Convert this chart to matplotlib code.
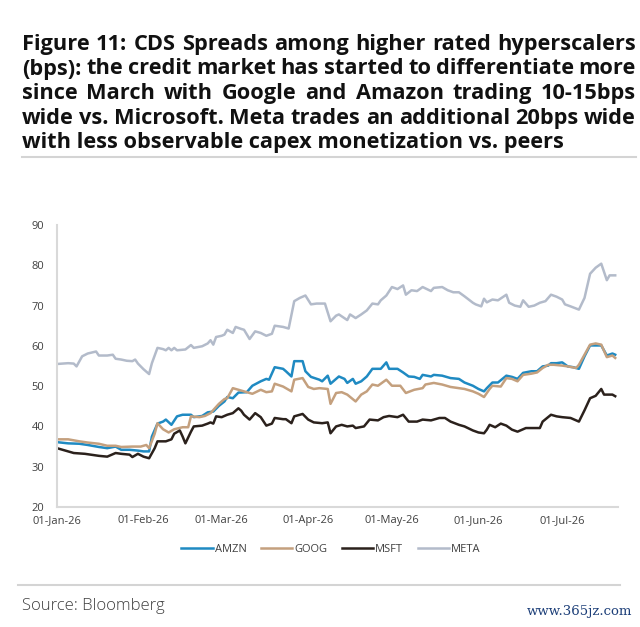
import matplotlib
matplotlib.use("Agg")
import matplotlib.pyplot as plt
from matplotlib.lines import Line2D
import pandas as pd

# days counted from 01-Jan-26, values in bps
amzn_day = [0, 4, 8, 11, 15, 18, 21, 23, 26, 29, 31, 33, 34, 36, 38, 39, 41, 43, 45, 48, 49, 52, 54, 56, 58, 60, 61, 63, 65,
            68, 70, 73, 75, 76, 78, 81, 82, 84, 85, 88, 89, 91, 94, 95, 97, 98, 100, 101, 103, 104, 106, 107, 109, 111, 113,
            116, 118, 119, 122, 124, 126, 128, 130, 131,
            134, 135, 138, 141, 144, 146, 149, 151, 153, 154, 156, 158, 161, 163, 165, 167, 170, 172, 174, 176, 177, 179,
            181, 183, 185, 187, 189, 191, 193, 195, 197, 199, 200]
amzn = [36.1, 35.8, 35.7, 35.4, 34.9, 34.6, 35.0, 34.2, 34.2, 34.0, 33.8, 33.8, 37.5, 40.7, 41.2, 41.7, 40.4, 42.5, 42.9,
        42.9, 42.3, 42.6, 43.5, 43.7, 45.1, 46.2, 47.3, 47.0, 48.4,
        48.5, 50.1, 51.2, 51.8, 51.6, 54.7, 54.3, 53.7, 52.4, 56.2, 56.2, 53.7, 52.3, 51.6, 51.2, 52.6, 50.6, 51.8, 52.4,
        51.8, 50.8, 51.8, 50.6, 51.2, 52.4, 54.3, 54.3, 55.9, 54.3, 54.3, 53.4, 52.4, 52.3, 51.8, 52.8,
        52.4, 52.8, 52.6, 52.0, 51.8, 50.9, 50.1, 49.3, 48.7, 49.5, 50.9, 50.9, 52.6, 52.3, 51.8, 53.3, 53.7, 53.7, 54.9,
        55.1, 55.7, 55.7, 55.9, 54.9, 54.7, 54.3, 57.4, 60.1, 60.1, 60.1, 57.6, 58.1, 57.8]

goog_day = [0, 4, 8, 11, 15, 18, 21, 23, 27, 30, 32, 33, 35, 36, 38, 40, 42, 45, 47, 48, 51, 53, 55, 58, 60, 61, 63, 65,
            68, 70, 73, 75, 77, 78, 81, 84, 85, 88, 90, 92, 94, 97, 98, 100, 102, 104, 107, 109, 111, 113, 115, 118, 120,
            123, 125, 128, 131,
            132, 135, 138, 141, 144, 146, 149, 151, 153, 155, 156, 159, 161, 163, 165, 167, 170, 172, 174, 176, 178, 181,
            183, 186, 187, 189, 191, 193, 195, 197, 199, 200]
goog = [36.8, 36.8, 36.3, 36.0, 35.7, 35.2, 35.2, 34.9, 35.0, 35.0, 35.4, 34.6, 38.2, 40.8, 39.3, 38.5, 39.3, 39.8, 39.8,
        42.5, 42.3, 42.6, 43.3, 45.6, 46.8, 47.0, 49.5, 49.1,
        48.5, 48.1, 49.1, 48.5, 48.7, 50.6, 49.9, 48.7, 51.6, 52.0, 49.8, 49.3, 49.5, 49.3, 45.6, 48.3, 48.5, 47.9, 46.2,
        47.9, 48.7, 50.4, 50.1, 51.6, 50.1, 50.1, 48.3, 49.1, 49.5,
        50.4, 50.8, 50.4, 49.8, 49.5, 49.3, 48.7, 48.1, 47.3, 49.3, 50.1, 49.9, 52.0, 51.8, 51.2, 52.8, 53.1, 53.4, 54.5,
        55.3, 55.3, 55.1, 54.9, 54.5, 55.3, 57.8, 60.3, 60.6, 60.3, 57.2, 57.6, 57.0]

msft_day = [0, 3, 6, 10, 12, 15, 18, 21, 23, 26, 27, 29, 31, 33, 35, 36, 39, 41, 42, 44, 45, 46, 48, 49, 52, 54, 55, 56,
            57, 59, 61, 63, 65,
            66, 67, 69, 71, 73, 75, 77, 78, 81, 82, 84, 85, 88, 90, 92, 95, 97, 98, 100, 102, 104, 106, 107, 110, 112,
            115, 117, 119, 122, 124, 126, 129, 131,
            134, 137, 139, 141, 144, 146, 149, 151, 153, 154, 155, 157, 159, 161, 163, 165, 168, 170, 173, 174, 177, 179,
            181, 184, 187, 189, 191, 193, 195, 196, 199, 200]
msft = [34.6, 34.0, 33.4, 33.2, 33.0, 32.7, 32.5, 33.4, 33.2, 33.0, 32.4, 33.2, 32.5, 32.1, 34.6, 36.3, 36.3, 36.8, 38.2,
        39.0, 37.5, 35.8, 38.7, 40.0, 40.2, 40.7, 41.0, 40.7, 42.5, 42.3, 42.9, 43.3, 44.5,
        43.9, 42.9, 41.7, 43.3, 42.3, 40.2, 40.7, 42.1, 41.8, 41.8, 40.8, 42.5, 43.1, 41.7, 41.0, 40.8, 41.0, 38.3, 40.0,
        40.4, 40.0, 40.2, 39.6, 40.0, 41.7, 41.5, 42.3, 42.6, 42.3, 42.9, 41.2, 41.2, 41.7,
        41.5, 42.1, 42.1, 41.2, 40.4, 40.0, 39.0, 38.5, 38.3, 39.2, 40.4, 39.8, 40.7, 40.2, 39.2, 38.7, 39.6, 39.6, 39.6,
        41.2, 42.9, 42.5, 42.3, 42.1, 41.2, 44.0, 47.0, 47.6, 49.3, 47.9, 47.9, 47.5]

meta_day = [0, 4, 6, 7, 9, 11, 14, 15, 18, 20, 21, 23, 25, 27, 28, 29, 31, 33, 34, 36, 38, 39, 40, 41, 42, 43, 46, 48, 49,
            52, 54, 55, 56, 57, 59, 60, 61, 63, 64, 66,
            67, 69, 71, 73, 75, 77, 78, 81, 83, 85, 87, 89, 91, 93, 96, 98, 100, 101, 104, 105, 107, 109, 111, 113, 115,
            116, 118, 120, 122, 124, 125, 127, 129, 131,
            134, 135, 138, 140, 142, 144, 146, 149, 150, 152, 153, 154, 156, 158, 161, 162, 164, 166, 167, 169, 171, 173,
            175, 177, 179, 181, 182, 184, 187, 189, 191, 193, 195, 197, 198, 200]
meta = [55.5, 55.7, 55.6, 54.9, 57.4, 58.1, 58.6, 57.6, 57.6, 57.8, 56.8, 56.6, 56.3, 56.2, 56.6, 55.6, 54.2, 53.0, 55.7,
        59.5, 59.2, 58.9, 59.5, 58.9, 59.5, 58.9, 59.1, 60.2, 59.5, 59.9, 60.6, 61.4, 60.3, 62.2, 62.5, 62.8, 64.0, 63.2,
        64.7, 64.2,
        64.0, 61.7, 63.6, 63.2, 62.5, 63.0, 65.0, 64.7, 64.3, 71.1, 71.9, 72.5, 70.3, 70.5, 70.5, 66.1, 67.5, 67.8, 66.4,
        67.8, 66.9, 67.8, 68.8, 70.5, 70.3, 71.3, 72.5, 74.6, 74.1, 75.0, 72.7, 73.8, 73.6, 74.6,
        73.6, 74.4, 74.6, 73.8, 73.3, 73.3, 72.3, 70.7, 70.3, 69.8, 71.7, 70.8, 71.5, 71.3, 72.7, 70.7, 70.0, 69.7, 71.3,
        69.7, 70.0, 70.7, 71.1, 72.7, 72.2, 71.5, 70.3, 69.8, 69.0, 71.9, 77.9, 79.4, 80.4, 76.3, 77.5, 77.5]

names = ["AMZN", "GOOG", "MSFT", "META"]
colors = ["#1f8ac2", "#c4a07e", "#2b211c", "#b3bbca"]

title_lines = [
    "Figure 11: CDS Spreads among higher rated hyperscalers",
    "(bps):  the credit market has started to differentiate more",
    "since March with Google and Amazon trading 10-15bps",
    "wide vs. Microsoft. Meta trades an additional 20bps wide",
    "with less observable capex monetization vs. peers",
]

W, H = 640, 627
start = pd.Timestamp("2026-01-01")

fig = plt.figure(figsize=(W / 100, H / 100), dpi=100)
renderer = fig.canvas.get_renderer()
title_style = dict(family="Open Sans", weight="bold", color="#111111", va="baseline")

# size the title font so the last (unjustified) line has the original width
probe = fig.text(0, 0, title_lines[-1], fontsize=14, **title_style)
title_size = 14 * 545 / probe.get_window_extent(renderer).width
probe.remove()

baselines = [50, 74.5, 99, 123.5, 148]
for i, line in enumerate(title_lines):
    yb = 1 - baselines[i] / H
    if i == len(title_lines) - 1:
        fig.text(22 / W, yb, line, fontsize=title_size, **title_style)
        continue
    # the other lines are justified to the full width
    words = line.split()
    texts = [fig.text(0, yb, w, fontsize=title_size, **title_style) for w in words]
    widths = [t.get_window_extent(renderer).width for t in texts]
    gap = (636 - 22 - sum(widths)) / (len(words) - 1)
    x = 22
    for t, w in zip(texts, widths):
        t.set_x(x / W)
        x += w + gap

fig.add_artist(Line2D([22 / W, 636 / W], [1 - 157 / H] * 2, color="#d4d4d4", lw=1.5))
fig.add_artist(Line2D([18 / W, 620 / W], [1 - 585 / H] * 2, color="#d4d4d4", lw=1.5))

ax = fig.add_axes([57 / W, 1 - 507 / H, (618 - 57) / W, (507 - 225) / H])
series = [(amzn_day, amzn), (goog_day, goog), (msft_day, msft), (meta_day, meta)]
for (days, vals), name, c in zip(series, names, colors):
    dates = start + pd.to_timedelta(days, unit="D")
    ax.plot(dates, vals, color=c, lw=1.8, label=name, solid_joinstyle="round")

ax.set_ylim(20, 90)
ax.set_yticks(range(20, 91, 10))
ax.set_xlim(start, start + pd.Timedelta(days=201))
ticks = pd.date_range("2026-01-01", "2026-07-01", freq="MS")
ax.set_xticks(ticks)
ax.set_xticklabels([t.strftime("%d-%b-%y") for t in ticks])
for s in ["top", "right"]:
    ax.spines[s].set_visible(False)
for s in ["left", "bottom"]:
    ax.spines[s].set_color("#d9d9d9")
    ax.spines[s].set_linewidth(1.5)
ax.tick_params(length=0, labelsize=8, colors="#404040")
ax.tick_params(axis="y", pad=9)
ax.tick_params(axis="x", pad=6)
for lbl in ax.get_xticklabels() + ax.get_yticklabels():
    lbl.set_family("Open Sans")

fig.legend(loc="center", bbox_to_anchor=(331 / W, 1 - 549 / H), ncol=4, frameon=False,
           handlelength=2.8, handletextpad=0.2, columnspacing=1.3,
           prop={"family": "Open Sans", "size": 8}, labelcolor="#404040")

fig.text(22 / W, 1 - 606 / H, "Source: Bloomberg", fontsize=12, family="Open Sans",
         weight="light", color="#404040", va="center")
fig.text(632 / W, 1 - 611 / H, "www.365jz.com", fontsize=9.5, family="DejaVu Serif",
         color="#1c3e78", ha="right", va="center")

fig.savefig("out.png", dpi=100)
